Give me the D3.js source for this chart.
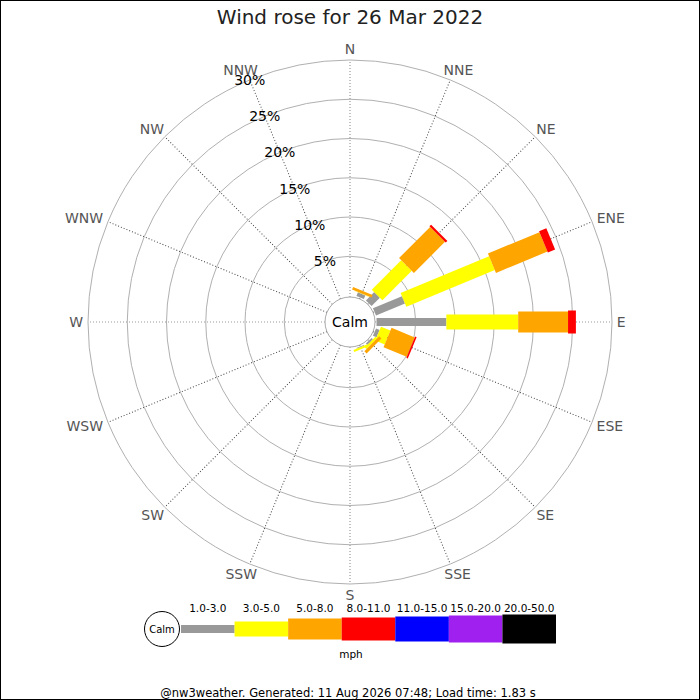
<!DOCTYPE html>
<html lang="en">
<head>
  <meta charset="UTF-8" />
  <title>Wind rose</title>
  <script src="https://d3js.org/d3.v7.min.js"></script>
  <style>
    body { margin: 0; background: #fff; }
    text { font-family: "DejaVu Sans", sans-serif; }
  </style>
</head>
<body>
<script type="text/javascript">

// wind directions, clockwise from north
var directions = ["N","NNE","NE","ENE","E","ESE","SE","SSE","S","SSW","SW","WSW","W","WNW","NW","NNW"];
// speed bands (mph)
var speedBands = ["1.0-3.0","3.0-5.0","5.0-8.0","8.0-11.0","11.0-15.0","15.0-20.0","20.0-50.0"];
// percent of time per direction, one array per band
var band1 = [0, 0.5, 1.5, 4.0, 8.9, 0.5, 0.25, 0.1, 0, 0, 0, 0, 0, 0, 0, 0];
var band2 = [0, 0.05, 5.3, 12.2, 9.15, 1.3, 0.3, 0.25, 0, 0, 0, 0, 0, 0, 0, 0];
var band3 = [0, 0.35, 5.6, 7.1, 6.35, 3.2, 0.4, 0, 0, 0, 0, 0, 0, 0, 0, 0];
var band4 = [0, 0, 0.3, 1.0, 1.0, 0.2, 0, 0, 0, 0, 0, 0, 0, 0, 0, 0];
var band5 = [0, 0, 0, 0, 0, 0, 0, 0, 0, 0, 0, 0, 0, 0, 0, 0];
var band6 = [0, 0, 0, 0, 0, 0, 0, 0, 0, 0, 0, 0, 0, 0, 0, 0];
var band7 = [0, 0, 0, 0, 0, 0, 0, 0, 0, 0, 0, 0, 0, 0, 0, 0];
var pctTicks = [5, 10, 15, 20, 25, 30];

var title = "Wind rose for 26 Mar 2022";
var footer = "@nw3weather. Generated: 11 Aug 2026 07:48; Load time: 1.83 s";

var W = 700, H = 700, cx = 350, cy = 322;
var calmR = 25;

var bands = [band1, band2, band3, band4, band5, band6, band7];
var color = d3.scaleOrdinal().domain(speedBands)
  .range(["#999999","#ffff00","#ffa500","#ff0000","#0000ff","#a020f0","#000000"]);
var barWidth = d3.scaleOrdinal().domain(speedBands).range([8, 15, 21, 23, 25, 27, 29]);
var r = d3.scaleLinear().domain([0, 30]).range([26.5, 262]);
var ang = d3.scalePoint().domain(directions).range([0, 337.5]);

// table for stacking
var table = directions.map(function(d, i) {
  var row = { dir: d };
  speedBands.forEach(function(b, j) { row[b] = bands[j][i]; });
  return row;
});
var series = d3.stack().keys(speedBands)(table);

var svg = d3.select("body").append("svg").attr("width", W).attr("height", H);
svg.append("rect").attr("x", 0.5).attr("y", 0.5).attr("width", W - 1).attr("height", H - 1)
  .attr("fill", "#fff").attr("stroke", "#000");

svg.append("text").attr("x", cx).attr("y", 24).attr("text-anchor", "middle")
  .attr("font-size", 20).attr("fill", "#222").text(title);

var g = svg.append("g").attr("transform", "translate(" + cx + "," + cy + ")");

// rings
g.selectAll("circle.ring").data(pctTicks).enter().append("circle")
  .attr("class", "ring").attr("r", function(d) { return r(d); })
  .attr("fill", "none").attr("stroke", "#b0b0b0").attr("stroke-width", 1);

// spokes
g.selectAll("line.spoke").data(directions).enter().append("line")
  .attr("class", "spoke")
  .attr("transform", function(d) { return "rotate(" + ang(d) + ")"; })
  .attr("x1", 0).attr("y1", -calmR).attr("x2", 0).attr("y2", -r(30))
  .attr("stroke", function(d, i) { return i % 4 == 0 ? "#999" : "#444"; })
  .attr("stroke-width", function(d, i) { return i % 4 == 0 ? 1.2 : 1; })
  .attr("stroke-dasharray", "1,2");

// direction labels, pushed outward from the ring
var labR = 266, fs = 14;
g.selectAll("text.dir").data(directions).enter().append("text")
  .attr("class", "dir")
  .each(function(d) {
    var a = ang(d) * Math.PI / 180, s = Math.sin(a), c = Math.cos(a);
    var t = d3.select(this).attr("font-size", fs).text(d);
    var w = this.getComputedTextLength();
    t.attr("x", labR * s + s * w / 2 * 1.15)
     .attr("y", -labR * c - c * fs / 2);
  })
  .attr("text-anchor", "middle").attr("dominant-baseline", "central")
  .attr("fill", "#555");

// bars
series.forEach(function(s) {
  var key = s.key, w = barWidth(key);
  g.selectAll(null).data(s.filter(function(d) { return d[1] - d[0] > 0; })).enter()
    .append("rect")
    .attr("transform", function(d) { return "rotate(" + ang(d.data.dir) + ")"; })
    .attr("x", -w / 2)
    .attr("y", function(d) { return -r(d[1]); })
    .attr("width", w)
    .attr("height", function(d) { return r(d[1]) - r(d[0]); })
    .attr("fill", color(key));
});

// calm circle
g.append("circle").attr("r", calmR).attr("fill", "#fff").attr("stroke", "#aaa");
g.append("text").attr("text-anchor", "middle").attr("dominant-baseline", "central")
  .attr("font-size", 14).attr("fill", "#000").text("Calm");

// percent labels along NNW spoke
var a0 = ang("NNW") * Math.PI / 180;
g.selectAll("text.pct").data(pctTicks).enter().append("text")
  .attr("class", "pct")
  .attr("x", function(d) { return r(d) * Math.sin(a0); })
  .attr("y", function(d) { return -r(d) * Math.cos(a0); })
  .attr("text-anchor", "middle").attr("dominant-baseline", "central")
  .attr("font-size", 14).attr("fill", "#000").text(function(d) { return d + "%"; });

// legend
var lx = d3.scaleBand().domain(speedBands).range([181, 556]);
var ly = 629;
var leg = svg.append("g");
leg.append("circle").attr("cx", 162).attr("cy", ly).attr("r", 17.5)
  .attr("fill", "#fff").attr("stroke", "#000");
leg.append("text").attr("x", 162).attr("y", ly).attr("text-anchor", "middle")
  .attr("dominant-baseline", "central").attr("font-size", 10).text("Calm");
leg.selectAll("rect").data(speedBands).enter().append("rect")
  .attr("x", function(d) { return lx(d); })
  .attr("y", function(d) { return ly - barWidth(d) / 2; })
  .attr("width", lx.bandwidth())
  .attr("height", function(d) { return barWidth(d); })
  .attr("fill", function(d) { return color(d); });
leg.selectAll("text.lab").data(speedBands).enter().append("text")
  .attr("class", "lab")
  .attr("x", function(d) { return lx(d) + lx.bandwidth() / 2; })
  .attr("y", 608).attr("text-anchor", "middle").attr("dominant-baseline", "central")
  .attr("font-size", 10.5).text(function(d) { return d; });
leg.append("text").attr("x", 351).attr("y", 654).attr("text-anchor", "middle")
  .attr("dominant-baseline", "central").attr("font-size", 10.5).text("mph");

svg.append("text").attr("x", 348).attr("y", 693).attr("text-anchor", "middle")
  .attr("dominant-baseline", "central").attr("font-size", 11.5).text(footer);

</script>
</body>
</html>
